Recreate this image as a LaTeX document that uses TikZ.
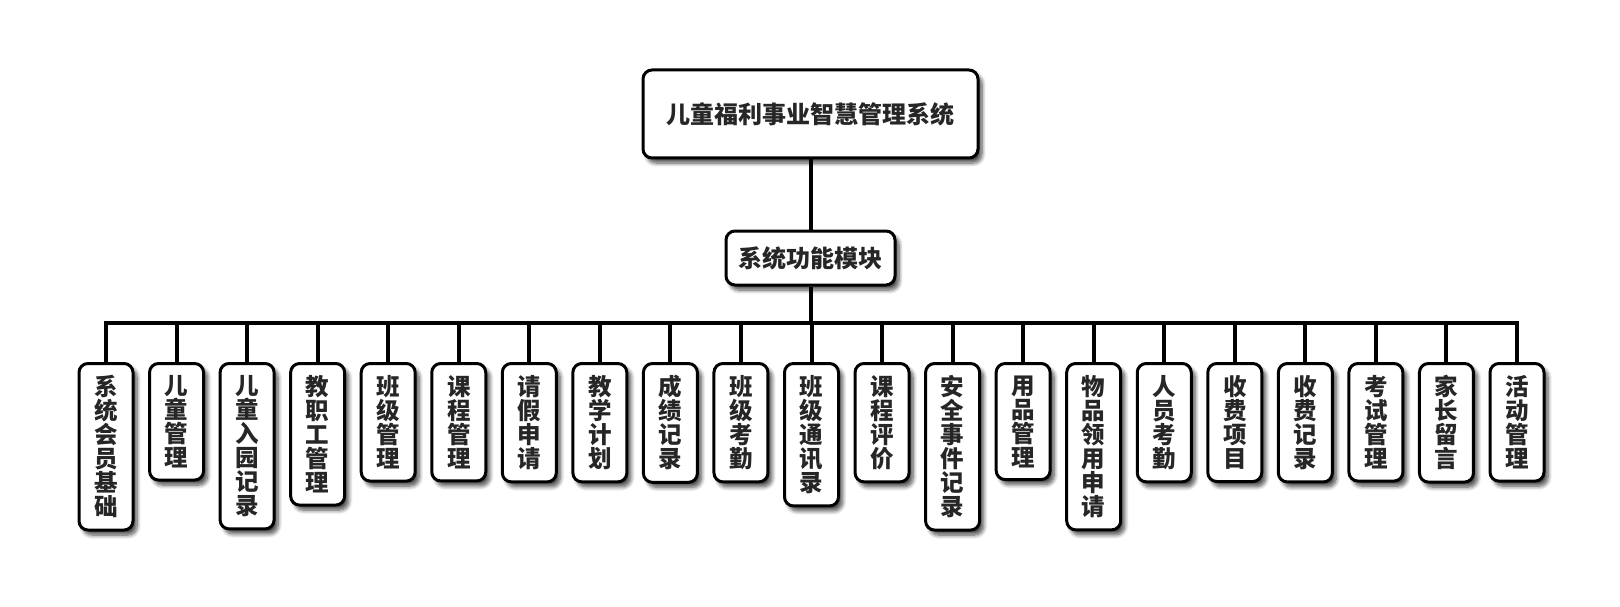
\documentclass[tikz,border=0pt]{standalone}
\usepackage{fontspec}
\setmainfont{Noto Sans CJK SC}
\usetikzlibrary{shadows.blur}
\definecolor{txtgray}{HTML}{262626}

\tikzstyle{box} = [draw=black, line width=3pt, rounded corners=9pt, fill=white, text=txtgray,
    blur shadow={shadow xshift=4pt, shadow yshift=-5pt, shadow blur radius=4pt, shadow blur steps=8, shadow opacity=70}]
\tikzstyle{sysbox} = [box, minimum width=335pt, minimum height=88pt, font=\bfseries\fontsize{24}{26}\selectfont]
\tikzstyle{modbox} = [box, minimum width=169pt, minimum height=54pt, font=\bfseries\fontsize{24}{26}\selectfont]
\tikzstyle{leafbox} = [box, anchor=north, text width=24pt, inner xsep=15pt, inner ysep=12pt, align=center,
    font=\bfseries\fontsize{23.5}{24}\selectfont]
\tikzstyle{link} = [line width=4pt, black]

\begin{document}
\begin{tikzpicture}[x=1pt, y=-1pt]
\useasboundingbox (0,0) rectangle (1620,607);

\node[sysbox] (sys) at (810.5,114) {儿童福利事业智慧管理系统};
\node[modbox] (mod) at (810.5,258) {系统功能模块};
\coordinate (bus) at (810.5,323);

% leaf modules
\foreach \txt [count=\i] in {
    {系\\统\\会\\员\\基\\础}, {儿\\童\\管\\理}, {儿\\童\\入\\园\\记\\录}, {教\\职\\工\\管\\理},
    {班\\级\\管\\理}, {课\\程\\管\\理}, {请\\假\\申\\请}, {教\\学\\计\\划},
    {成\\绩\\记\\录}, {班\\级\\考\\勤}, {班\\级\\通\\讯\\录}, {课\\程\\评\\价},
    {安\\全\\事\\件\\记\\录}, {用\\品\\管\\理}, {物\\品\\领\\用\\申\\请}, {人\\员\\考\\勤},
    {收\\费\\项\\目}, {收\\费\\记\\录}, {考\\试\\管\\理}, {家\\长\\留\\言}, {活\\动\\管\\理}}
    \node[leafbox] (c\i) at ({106+(\i-1)*70.55},362) {\txt};

\draw[link] (sys) -- (mod);
\draw[link] (mod) -- (bus);
\draw[link] (c1.north) |- (bus) -| (c21.north);
\foreach \i in {2,...,20}
    \draw[link] (c\i.north) -- (c\i.north |- bus);
\end{tikzpicture}
\end{document}
